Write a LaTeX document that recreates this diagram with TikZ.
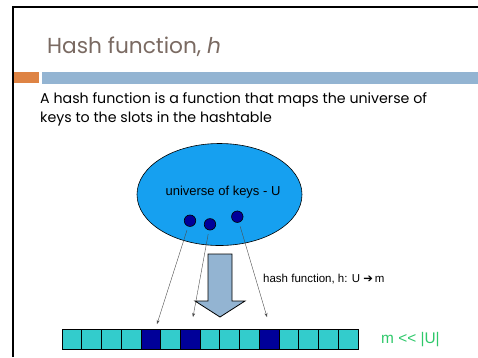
\documentclass[tikz,border=0pt]{standalone}
\usepackage{fontspec}
\setmainfont{Poppins}
\newfontfamily\arialfont{Liberation Sans}
\newfontfamily\symfont{DejaVu Sans}
\usetikzlibrary{arrows.meta,shapes.geometric}
\definecolor{titlegray}{HTML}{7A6A62}
\definecolor{barorange}{HTML}{DE8344}
\definecolor{barblue}{HTML}{93B4D2}
\definecolor{univblue}{HTML}{16A0F0}
\definecolor{keynavy}{HTML}{000099}
\definecolor{slotteal}{HTML}{33CCCC}
\definecolor{notegreen}{HTML}{2EC86A}

\begin{document}
\begin{tikzpicture}[x=1pt,y=-1pt,>=Stealth,
  key/.style={circle,draw=black,fill=keynavy,line width=0.6pt,minimum size=11.5pt,inner sep=0pt},
  slot/.style={draw=black,line width=0.8pt,minimum width=19.73pt,minimum height=20pt,inner sep=0pt,fill=slotteal},
  hashline/.style={line width=0.4pt,draw=black!70,shorten <=4pt,
    -{Stealth[length=4pt,width=3pt]}}]
\useasboundingbox (0,0) rectangle (478,357);
% Folienrahmen und Titelleiste
\draw[line width=2pt] (13,357) -- (13,7) -- (478,7);
\fill[barorange] (14,72) rectangle (39,83);
\fill[barblue] (42,72) rectangle (478,84);
\node[anchor=base west,text=titlegray,font=\fontsize{21.7}{26}\selectfont,inner sep=0pt]
  (title) at (47,53) {Hash function, \textit{h}};
\node[anchor=base west,align=left,font=\fontsize{14.2}{19}\selectfont,inner sep=0pt]
  (intro) at (40,122) {A hash function is a function that maps the universe of\\
  keys to the slots in the hashtable};
% Universum der Schluessel
\node[ellipse,draw=black,fill=univblue,line width=0.6pt,minimum width=165pt,minimum height=102pt,inner sep=0pt]
  (U) at (219.5,194.5) {};
\node[font=\arialfont\fontsize{13}{15}\selectfont] (ulabel) at (223,192) {universe of keys - U};
\node[key] (k1) at (190,220.7) {};
\node[key] (k2) at (210,224.3) {};
\node[key] (k3) at (237.3,216.7) {};
% Hashtabelle
\foreach \i in {0,...,14}{
  \node[slot] (s\i) at (71.9+19.73*\i,339) {};
}
\foreach \i in {4,6,10}{
  \node[slot,fill=keynavy] at (s\i) {};
}
% grosser Pfeil
\draw[fill=barblue,line width=0.8pt]
  (208,254) -- (232,254) -- (232,301) -- (245,301) -- (220,317) -- (195,301) -- (208,301) -- cycle;
\node[anchor=west,font=\arialfont\fontsize{11.5}{13}\selectfont,inner sep=0pt]
  (hlabel) at (263,279) {hash function, h: U {\symfont\char"2794}\,m};
% Abbildung der Schluessel
\coordinate (t1) at (157,324);
\coordinate (t2) at (193,317);
\coordinate (t3) at (267,317);
\draw[hashline] (k1) -- (t1);
\draw[hashline] (k2) -- (t2);
\draw[hashline] (k3) -- (t3);
\node[anchor=west,text=notegreen,font=\arialfont\fontsize{15.4}{17}\selectfont,inner sep=0pt]
  (note) at (381,340) {m << |U|};
\end{tikzpicture}
\end{document}
